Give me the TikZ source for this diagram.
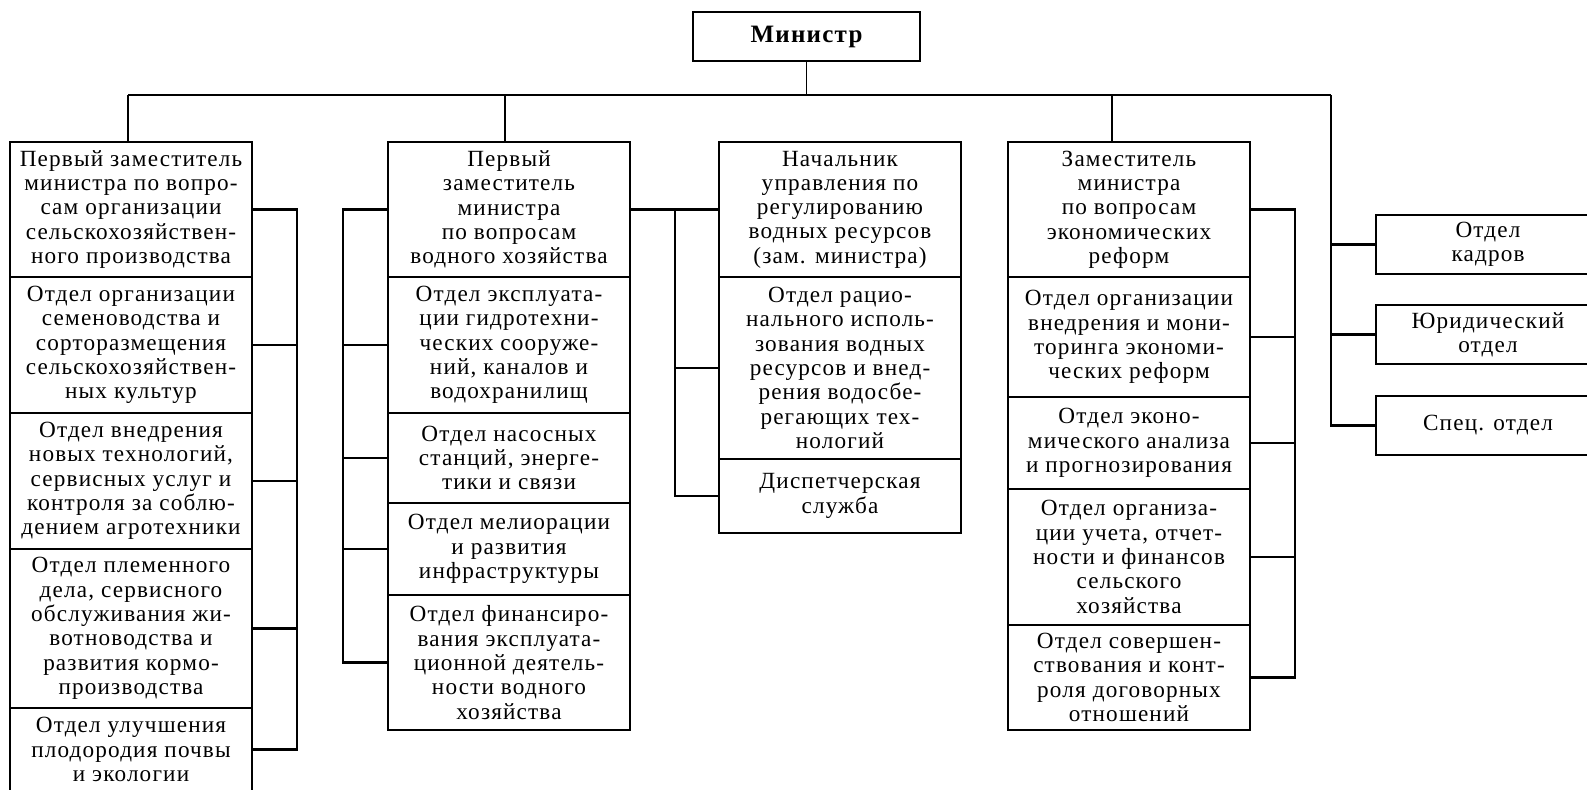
\documentclass[tikz,border=0pt]{standalone}
\usepackage{fontspec}
\setmainfont{Liberation Serif}[LetterSpace=5]
\begin{document}
\begin{tikzpicture}[x=0.5pt,y=-0.5pt,
  cell/.style={draw, line width=1.45pt, inner sep=0pt, align=center, minimum width=121pt, font=\fontsize{11.6}{12.15}\selectfont},
  spec/.style={cell, minimum width=112pt, minimum height=29.5pt},
  thinln/.style={line width=0.9pt},
  thickln/.style={line width=1.45pt}]
\useasboundingbox (0,0) rectangle (1587,789);

% Minister
\node[cell, minimum width=113.5pt, minimum height=24.5pt, font=\fontsize{12.5}{14}\selectfont\bfseries] (mn) at (806.5,36.5) {Министр};

% Column 1
\node[cell, minimum height=67.5pt] (c1a) at (131,209.5) {Первый заместитель\\министра по вопро-\\сам организации\\сельскохозяйствен-\\ного производства};
\node[cell, minimum height=68pt] (c1b) at (131,345) {Отдел организации\\семеноводства и\\сорторазмещения\\сельскохозяйствен-\\ных культур};
\node[cell, minimum height=68pt] (c1c) at (131,481) {Отдел внедрения\\новых технологий,\\сервисных услуг и\\контроля за соблю-\\дением агротехники};
\node[cell, minimum height=79.5pt] (c1d) at (131,628.5) {Отдел племенного\\дела, сервисного\\обслуживания жи-\\вотноводства и\\развития кормо-\\производства};
\node[cell, minimum height=41.5pt] (c1e) at (131,749.5) {Отдел улучшения\\плодородия почвы\\и экологии};

% Column 2
\node[cell, minimum height=67.5pt] (c2a) at (509,209.5) {Первый\\заместитель\\министра\\по вопросам\\водного хозяйства};
\node[cell, minimum height=68pt] (c2b) at (509,345) {Отдел эксплуата-\\ции гидротехни-\\ческих сооруже-\\ний, каналов и\\водохранилищ};
\node[cell, minimum height=45pt] (c2c) at (509,458) {Отдел насосных\\станций, энерге-\\тики и связи};
\node[cell, minimum height=46pt] (c2d) at (509,549) {Отдел мелиорации\\и развития\\инфраструктуры};
\node[cell, minimum height=67.5pt] (c2e) at (509,662.5) {Отдел финансиро-\\вания эксплуата-\\ционной деятель-\\ности водного\\хозяйства};

% Column 3
\node[cell, minimum height=67.5pt] (c3a) at (840,209.5) {Начальник\\управления по\\регулированию\\водных ресурсов\\(зам. министра)};
\node[cell, minimum height=91pt] (c3b) at (840,368) {Отдел рацио-\\нального исполь-\\зования водных\\ресурсов и внед-\\рения водосбе-\\регающих тех-\\нологий};
\node[cell, minimum height=37pt] (c3c) at (840,496) {Диспетчерская\\служба};

% Column 4
\node[cell, minimum height=67.5pt] (c4a) at (1129,209.5) {Заместитель\\министра\\по вопросам\\экономических\\реформ};
\node[cell, minimum height=60pt] (c4b) at (1129,337) {Отдел организации\\внедрения и мони-\\торинга экономи-\\ческих реформ};
\node[cell, minimum height=46pt] (c4c) at (1129,443) {Отдел эконо-\\мического анализа\\и прогнозирования};
\node[cell, minimum height=68pt] (c4d) at (1129,557) {Отдел организа-\\ции учета, отчет-\\ности и финансов\\сельского\\хозяйства};
\node[cell, minimum height=52.5pt] (c4e) at (1129,677.5) {Отдел совершен-\\ствования и конт-\\роля договорных\\отношений};

% Staff departments
\node[spec] (s1) at (1488,244.5) {Отдел\\кадров};
\node[spec] (s2) at (1488,334.5) {Юридический\\отдел};
\node[spec] (s3) at (1488,425.5) {Спец. отдел};

% Bus
\coordinate (busL) at (128,95);
\coordinate (b2) at (505,95);
\coordinate (b4) at (1112,95);
\coordinate (busR) at (1331,95);
\draw[thinln] (busL) -- (busR);
\draw[thinln] (mn.south) -- (mn.south |- busL);
\draw[thinln] (busL) -- (busL |- c1a.north);
\draw[thinln] (b2) -- (b2 |- c2a.north);
\draw[thinln] (b4) -- (b4 |- c4a.north);

% Right staff line
\draw[thickln] (busR) -- (busR |- s3.west) -- (s3.west);
\draw[thickln] (busR |- s1.west) -- (s1.west);
\draw[thickln] (busR |- s2.west) -- (s2.west);

% Column 1 bracket
\coordinate (k1) at (297,0);
\draw[thickln] (c1a.east) -- (c1a.east -| k1) -- (c1e.east -| k1) -- (c1e.east);
\foreach \n in {c1b,c1c,c1d} \draw[thickln] (\n.east) -- (\n.east -| k1);

% Column 2 bracket
\coordinate (k2) at (343,0);
\draw[thickln] (c2a.west) -- (c2a.west -| k2) -- (c2e.west -| k2) -- (c2e.west);
\foreach \n in {c2b,c2c,c2d} \draw[thickln] (\n.west) -- (\n.west -| k2);

% Column 3 bracket (from column 2 head)
\coordinate (k3) at (675,0);
\draw[thickln] (c2a.east) -- (c3a.west);
\draw[thickln] (c3a.west -| k3) -- (c3c.west -| k3) -- (c3c.west);
\draw[thickln] (c3b.west -| k3) -- (c3b.west);

% Column 4 bracket
\coordinate (k4) at (1295,0);
\draw[thickln] (c4a.east) -- (c4a.east -| k4) -- (c4e.east -| k4) -- (c4e.east);
\foreach \n in {c4b,c4c,c4d} \draw[thickln] (\n.east) -- (\n.east -| k4);
\end{tikzpicture}
\end{document}
